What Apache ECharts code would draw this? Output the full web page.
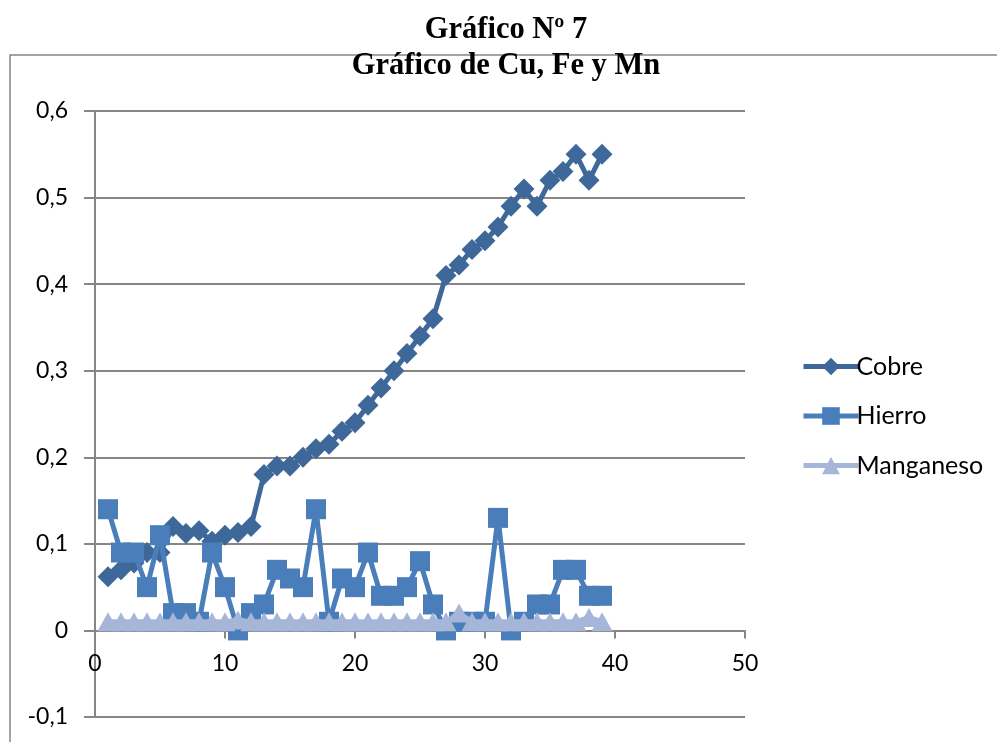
<!DOCTYPE html>
<html><head><meta charset="utf-8">
<script src="https://cdn.jsdelivr.net/npm/echarts@6/dist/echarts.min.js"></script>
<style>html,body{margin:0;padding:0;background:#fff}#c{width:997px;height:742px}</style>
</head><body><div id="c"></div>
<script>
const xValues = [1,2,3,4,5,6,7,8,9,10,11,12,13,14,15,16,17,18,19,20,21,22,23,24,25,26,27,28,29,30,31,32,33,34,35,36,37,38,39];
const cobre = [0.062,0.07,0.078,0.09,0.09,0.12,0.112,0.115,0.103,0.11,0.113,0.12,0.18,0.19,0.19,0.2,0.21,0.215,0.23,0.24,0.26,0.28,0.3,0.32,0.34,0.36,0.41,0.422,0.44,0.45,0.466,0.49,0.51,0.49,0.52,0.53,0.55,0.52,0.55];
const hierro = [0.14,0.09,0.09,0.05,0.11,0.02,0.02,0.01,0.09,0.05,0,0.02,0.03,0.07,0.06,0.05,0.14,0.01,0.06,0.05,0.09,0.04,0.04,0.05,0.08,0.03,0,0.01,0.01,0.01,0.13,0,0.01,0.03,0.03,0.07,0.07,0.04,0.04];
const manganeso = [0.01,0.01,0.01,0.01,0.01,0.01,0.01,0.01,0.01,0.01,0.012,0.01,0.01,0.01,0.01,0.01,0.01,0.01,0.01,0.01,0.01,0.01,0.01,0.01,0.01,0.01,0.01,0.02,0.01,0.01,0.01,0.01,0.01,0.01,0.01,0.01,0.01,0.015,0.01];
const titleLines = ['Gráfico Nº 7', 'Gráfico de Cu, Fe y Mn'];
const seriesNames = ['Cobre', 'Hierro', 'Manganeso'];

const pair = (ys) => xValues.map((x, i) => [x, ys[i]]);
const fmt = (v) => Math.abs(v) < 1e-9 ? '0' : (Math.round(v * 10) / 10).toFixed(1).replace('.', ',');
const gray = '#868686';
const font = 'Lato, "Open Sans", sans-serif';

const chart = echarts.init(document.getElementById('c'));
chart.setOption({
  animation: false,
  backgroundColor: '#fff',
  graphic: [
    { type: 'rect', shape: { x: 10, y: 55, width: 1000, height: 720 }, style: { fill: 'none', stroke: gray, lineWidth: 1.5 }, z: 0 },
    { type: 'text', x: 506, y: 12, style: { text: titleLines.join('\n'), textAlign: 'center', font: 'bold 30.5px "Liberation Serif", "Times New Roman", serif', lineHeight: 36, fill: '#000' } }
  ],
  grid: { left: 95, right: 252, top: 111, bottom: 25, containLabel: false },
  legend: {
    orient: 'vertical', left: 796, top: 349, itemWidth: 55, itemHeight: 22, itemGap: 24.5,
    lineStyle: { width: 5 },
    textStyle: { fontFamily: font, fontSize: 25, color: '#000', padding: [0, 0, 0, -7] },
    data: seriesNames
  },
  xAxis: {
    type: 'value', min: 0, max: 50, interval: 10, offset: -86.6,
    axisLine: { onZero: false, lineStyle: { color: gray, width: 2 } },
    axisTick: { show: true, length: 8, lineStyle: { color: gray, width: 2 } },
    axisLabel: { fontFamily: font, fontSize: 23, color: '#000', margin: 22 },
    splitLine: { show: false }
  },
  yAxis: {
    type: 'value', min: -0.1, max: 0.6, interval: 0.1,
    axisLine: { show: true, onZero: false, lineStyle: { color: gray, width: 2 } },
    axisTick: { show: true, length: 11, lineStyle: { color: gray, width: 2 } },
    axisLabel: { fontFamily: font, fontSize: 23, color: '#000', margin: 27, formatter: fmt },
    splitLine: { show: true, lineStyle: { color: gray, width: 2 } }
  },
  series: [
    { name: seriesNames[0], type: 'line', data: pair(cobre), symbol: 'diamond', symbolSize: 21,
      lineStyle: { color: '#3d6899', width: 5 }, itemStyle: { color: '#3d6899' }, z: 3 },
    { name: seriesNames[1], type: 'line', data: pair(hierro), symbol: 'rect', symbolSize: 20,
      lineStyle: { color: '#4a7ebb', width: 5 }, itemStyle: { color: '#4a7ebb' }, z: 4 },
    { name: seriesNames[2], type: 'line', data: pair(manganeso), symbol: 'triangle', symbolSize: [21, 19],
      lineStyle: { color: '#a5b6d8', width: 5 }, itemStyle: { color: '#a5b6d8' }, z: 5 }
  ]
});
</script></body></html>
